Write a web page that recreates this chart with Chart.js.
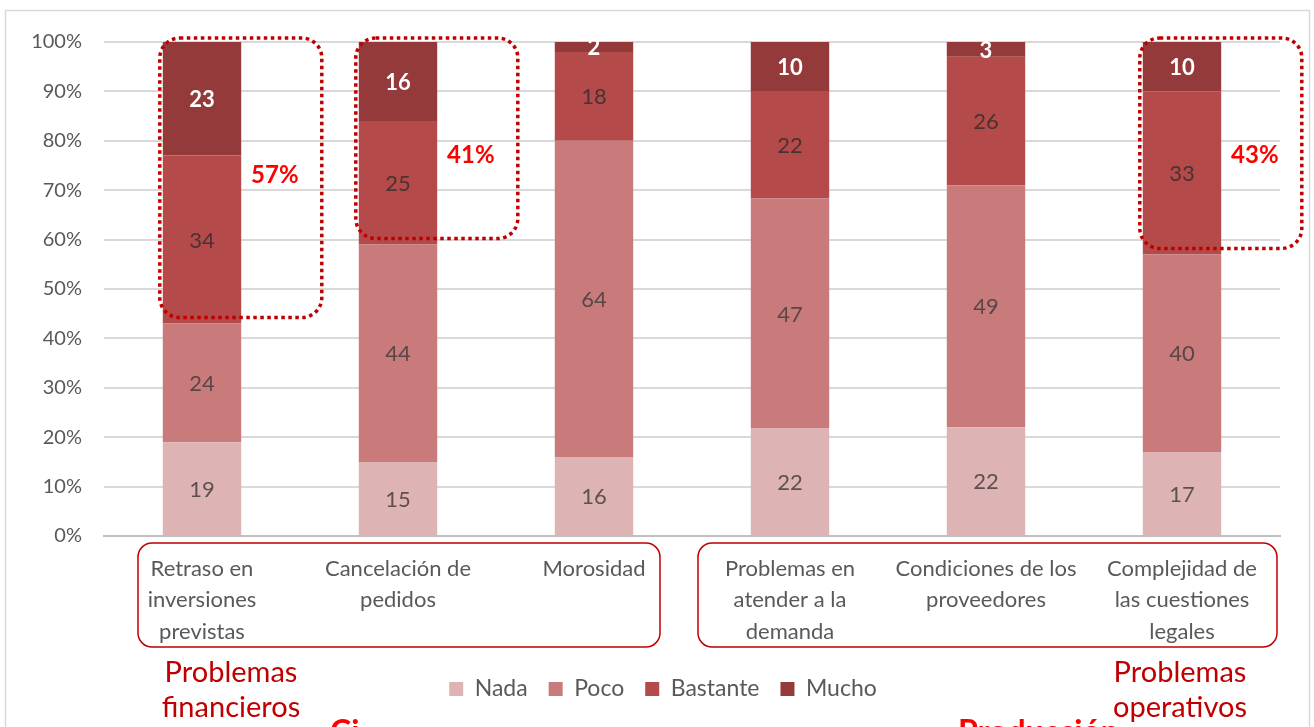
<!DOCTYPE html>
<html>
<head>
<meta charset="utf-8">
<title>Problemas</title>
<script src="https://cdn.jsdelivr.net/npm/chart.js@4.4.0/dist/chart.umd.min.js"></script>
<style>
  html, body { margin: 0; padding: 0; background: #fff; overflow: hidden; }
  #wrap { position: relative; width: 1314px; height: 727px; }
</style>
</head>
<body>
<div id="wrap"><canvas id="myChart" width="1314" height="727"></canvas></div>
<script>
// Categories (multi-line labels as in the original)
const categories = [
    ["Retraso en", "inversiones", "previstas"],
    ["Cancelación de", "pedidos"],
    ["Morosidad"],
    ["Problemas en", "atender a la", "demanda"],
    ["Condiciones de los", "proveedores"],
    ["Complejidad de", "las cuestiones", "legales"]
];

// Series values (%)
const nada     = [19, 15, 16, 22, 22, 17];
const poco     = [24, 44, 64, 47, 49, 40];
const bastante = [34, 25, 18, 22, 26, 33];
const mucho    = [23, 16,  2, 10,  3, 10];

const seriesNames = ["Nada", "Poco", "Bastante", "Mucho"];
const yTicks = [0, 10, 20, 30, 40, 50, 60, 70, 80, 90, 100];

// Highlighted bars: index and vertical spot of the % text
const highlights = [
    { i: 0, at: 73 },
    { i: 1, at: 77 },
    { i: 5, at: 77 }
];
const groupTitles = [
    { from: 0, to: 2, lines: ["Problemas", "financieros"] },
    { from: 3, to: 5, lines: ["Problemas", "operativos"] }
];

const colors = ["#DDB3B4", "#C97B7B", "#B44A49", "#943A3A"];
const labelColors = ["#5f5050", "#5a4646", "#4a3232", "#ffffff"];
const RED = "#C00000";
const FONT = "Lato, 'Open Sans', sans-serif";

const raw = [nada, poco, bastante, mucho];
// 100% stacked: normalise each column to its total
const totals = nada.map((_, i) => raw.reduce((s, arr) => s + arr[i], 0));

const datasets = raw.map((arr, k) => ({
    label: seriesNames[k],
    data: arr.map((v, i) => v / totals[i] * 100),
    rawValues: arr,
    backgroundColor: colors[k],
    borderWidth: 0,
    barPercentage: 0.4,
    categoryPercentage: 1
}));

// Draws values inside the segments, dotted boxes, category frames etc.
const decorations = {
    id: 'decorations',
    afterLayout(chart) {
        // legend sits a bit right of the canvas centre in the original
        if (chart.legend) {
            chart.legend.left += 23;
            chart.legend.right += 23;
        }
    },
    beforeDraw(chart) {
        const ctx = chart.ctx;
        ctx.save();
        ctx.strokeStyle = "#d9d9d9";
        ctx.lineWidth = 1.5;
        ctx.strokeRect(5.5, 10.5, 1304, 760);
        ctx.restore();
    },
    afterDatasetsDraw(chart) {
        const ctx = chart.ctx;
        const y = chart.scales.y;
        ctx.save();
        ctx.textAlign = "center";
        ctx.textBaseline = "middle";

        // values inside segments
        chart.data.datasets.forEach((ds, k) => {
            const meta = chart.getDatasetMeta(k);
            meta.data.forEach((bar, i) => {
                const cy = (bar.y + bar.base) / 2;
                ctx.fillStyle = labelColors[k];
                ctx.font = (k === 3 ? "bold " : "") + "22px " + FONT;
                ctx.fillText(String(ds.rawValues[i]), bar.x, cy + 1);
            });
        });

        // dotted highlight boxes
        highlights.forEach(h => {
            const bar = chart.getDatasetMeta(3).data[h.i];
            const base = chart.getDatasetMeta(2).data[h.i].base;
            const left = bar.x - bar.width / 2 - 3;
            const right = left + 162;
            const top = y.getPixelForValue(100) - 4;
            const bottom = base - 6;
            ctx.save();
            ctx.strokeStyle = RED;
            ctx.lineWidth = 3.5;
            ctx.setLineDash([3.5, 3.5]);
            ctx.beginPath();
            ctx.roundRect(left, top, right - left, bottom - top, 20);
            ctx.stroke();
            ctx.restore();
            const pct = bastante[h.i] + mucho[h.i];
            ctx.fillStyle = "#FF0000";
            ctx.font = "bold 24px " + FONT;
            ctx.fillText(pct + "%", right - 47, y.getPixelForValue(h.at));
        });
        ctx.restore();
    },
    afterDraw(chart) {
        const ctx = chart.ctx;
        const x = chart.scales.x;
        const y = chart.scales.y;
        const bottom = y.getPixelForValue(0);
        ctx.save();
        // frames round the category groups
        ctx.strokeStyle = RED;
        ctx.lineWidth = 1.5;
        ctx.beginPath();
        ctx.roundRect(x.getPixelForValue(0) - 64, bottom + 7, x.getPixelForValue(2) - x.getPixelForValue(0) + 130, 104, 14);
        ctx.stroke();
        ctx.beginPath();
        ctx.roundRect(x.getPixelForValue(3) - 92, bottom + 7, x.getPixelForValue(5) - x.getPixelForValue(3) + 187, 104, 14);
        ctx.stroke();

        // group titles
        ctx.fillStyle = RED;
        ctx.textAlign = "center";
        ctx.textBaseline = "middle";
        ctx.font = "29px " + FONT;
        const gx0 = x.getPixelForValue(groupTitles[0].from) + 29;
        const gx1 = x.getPixelForValue(groupTitles[1].to) - 2;
        ctx.fillText(groupTitles[0].lines[0], gx0, 673);
        ctx.fillText(groupTitles[0].lines[1], gx0, 708);
        ctx.fillText(groupTitles[1].lines[0], gx1, 673);
        ctx.fillText(groupTitles[1].lines[1], gx1, 708);

        // titles cut off at the bottom of the picture
        ctx.fillStyle = "#FF0000";
        ctx.textAlign = "left";
        ctx.textBaseline = "alphabetic";
        ctx.font = "bold 32px " + FONT;
        ctx.fillText("Ci", 330, 743);
        ctx.fillText("Producción", 958, 743);
        ctx.restore();
    }
};

const ctx = document.getElementById('myChart').getContext('2d');
new Chart(ctx, {
    type: 'bar',
    data: { labels: categories, datasets: datasets },
    options: {
        responsive: false,
        animation: false,
        layout: { padding: { left: 0, right: 34, top: 42, bottom: 16.5 } },
        plugins: {
            tooltip: { enabled: false },
            legend: {
                position: 'bottom',
                labels: {
                    boxWidth: 14,
                    boxHeight: 14,
                    padding: 21,
                    color: "#595959",
                    font: { family: FONT, size: 23 }
                }
            }
        },
        scales: {
            x: {
                stacked: true,
                grid: { display: false, drawTicks: false },
                border: { color: "#bfbfbf", width: 2 },
                ticks: {
                    color: "#595959",
                    font: { family: FONT, size: 22, lineHeight: 1.43 },
                    padding: 17,
                    maxRotation: 0,
                    autoSkip: false
                },
                afterFit(scale) { scale.height = 120.5; }
            },
            y: {
                stacked: true,
                min: 0,
                max: 100,
                afterBuildTicks(scale) { scale.ticks = yTicks.map(v => ({ value: v })); },
                grid: { color: "#d9d9d9", lineWidth: 2, drawTicks: false },
                border: { display: false },
                ticks: {
                    color: "#595959",
                    font: { family: FONT, size: 20 },
                    padding: 22,
                    callback: v => v + "%"
                },
                afterFit(scale) { scale.width = 104; }
            }
        }
    },
    plugins: [decorations]
});
</script>
</body>
</html>
